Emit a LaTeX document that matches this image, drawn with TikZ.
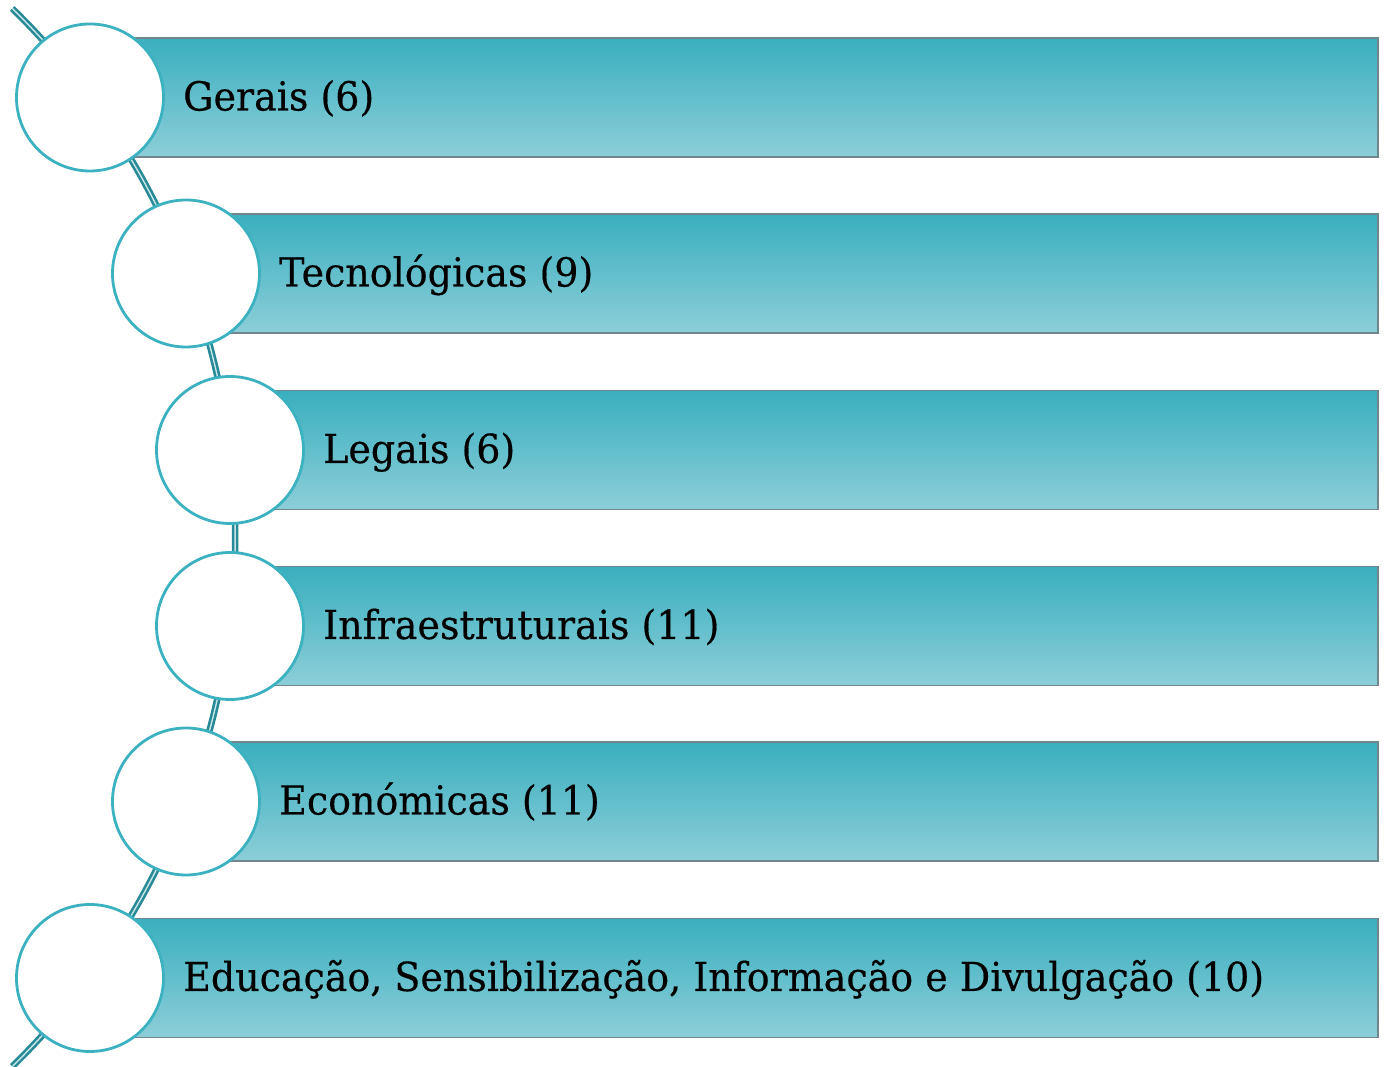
\documentclass[tikz,border=0pt]{standalone}
\usepackage{fontspec}
\setmainfont[FakeBold=0.4]{DejaVu Serif}
\usepackage{graphicx}
\newlength\longw
\definecolor{bartop}{RGB}{58,175,191}
\definecolor{barbot}{RGB}{140,206,216}
\definecolor{barline}{RGB}{112,134,138}
\definecolor{circline}{RGB}{60,178,192}
\definecolor{linkc}{RGB}{40,138,150}
\definecolor{linkin}{RGB}{200,230,234}
\newcommand\lblfont{\fontsize{40}{48}\selectfont}
\begin{document}
\settowidth\longw{\lblfont Educação, Sensibilização, Informação e Divulgação (10)}
\pgfmathsetmacro\sx{1081/\longw}
\begin{tikzpicture}[x=1pt,y=1pt,
  barbox/.style={rectangle, draw=barline, line width=1.5pt, top color=bartop, bottom color=barbot, minimum height=119pt, inner sep=0pt, anchor=west},
  bubble/.style={circle, draw=circline, line width=2.8pt, fill=white, minimum size=147pt, inner sep=0pt},
  link/.style={draw=linkc, line width=2.6pt, double=linkin, double distance=1.4pt},
  lbl/.style={anchor=base west, inner sep=0pt, text=black}]
\useasboundingbox (0,0) rectangle (1384,1067);
\coordinate (ac) at (-504,529.5);
\path (ac) ++(45.7:739.2pt) coordinate (ltop);
\draw[link] (ltop) arc[start angle=45.7, end angle=-45.7, radius=739.2pt] coordinate (lbot);
\foreach \i/\cx/\cy/\t in {
  1/90/969.5/{Gerais (6)},
  2/186/793.5/{Tecnológicas (9)},
  3/230/617/{Legais (6)},
  4/230/441/{Infraestruturais (11)},
  5/186/265.5/{Económicas (11)},
  6/90/89/{Educação, Sensibilização, Informação e Divulgação (10)}}{
  \pgfmathsetmacro\bw{1377-\cx}
  \node[barbox, minimum width=\bw pt] (b\i) at (\cx,\cy) {};
  \node[bubble] (c\i) at (\cx,\cy) {};
  \node[lbl] (t\i) at (\cx+93,\cy-13) {\scalebox{\sx}[1]{\lblfont \t}};
}
\end{tikzpicture}
\end{document}
